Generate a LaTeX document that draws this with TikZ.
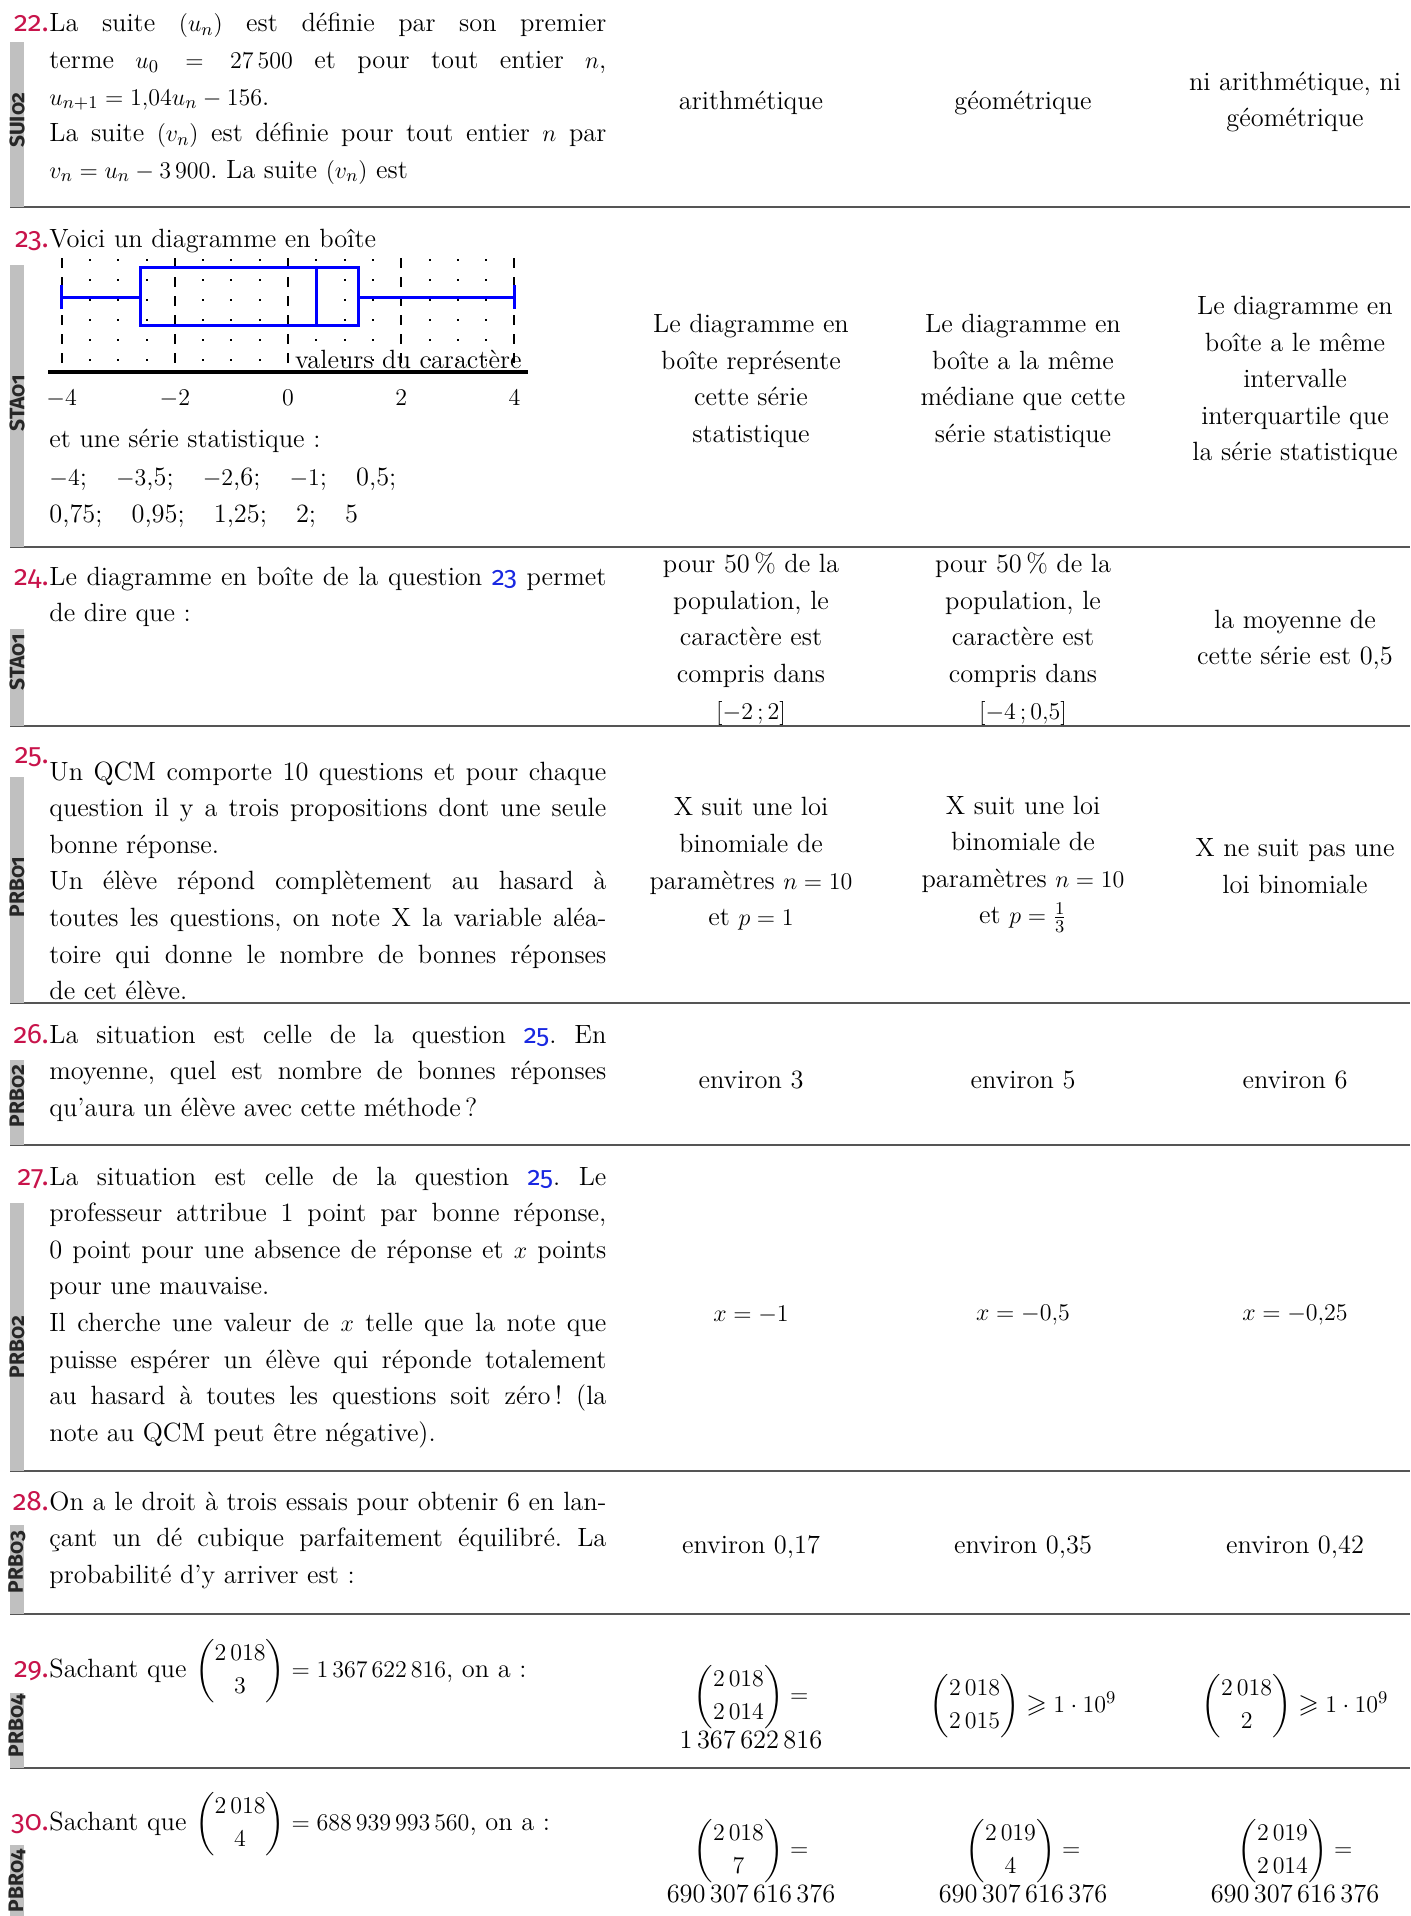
\documentclass[tikz,border=0pt]{standalone}
\usepackage{amsmath}
\usepackage{amssymb}
\usepackage{fontspec}
\newfontfamily\numfont[Numbers=OldStyle]{Fira Sans}
\usetikzlibrary{positioning}
\definecolor{qred}{RGB}{200,20,75}
\definecolor{linkblue}{RGB}{25,40,225}
\definecolor{bargray}{RGB}{192,192,192}
\definecolor{rulegray}{RGB}{85,85,85}
\newcommand{\qref}[1]{{\numfont\color{linkblue}#1}}
\hyphenpenalty=10000
\tolerance=9000
\hbadness=10000
\frenchspacing

\begin{document}
\begin{tikzpicture}[x=0.5pt,y=-0.5pt,
    every node/.style={inner sep=0pt,font=\fontsize{13.2}{18.3}\selectfont},
    question/.style={anchor=base west,text width=278.5pt,align=justify},
    answer/.style={align=center},
    qnum/.style={anchor=base east,text=qred,font=\fontsize{14}{18.3}\numfont},
    tagtext/.style={rotate=90,text=black!85,font=\fontsize{10.5}{11}\numfont\bfseries},
    rowrule/.style={draw=rulegray,line width=1pt},
    boxline/.style={draw=blue,line width=1.5pt}]
    \useasboundingbox (0,0) rectangle (1410,1916);

    % lignes de separation
    \foreach \y in {207,547,726,1003,1145,1471,1614,1768}
        \draw[rowrule] (10,\y) -- (1410,\y);

    % bandes grises
    \foreach \t/\b/\c/\lab in {42/207/120/SUI02,265/547/403/STA01,629/726/662/STA01,777/1003/887/PRB01,
        1060/1145/1096/PRB02,1203/1471/1347/PRB02,1525/1614/1562/PRB03,1693/1768/1726/PRB04,1845/1916/1881/PBR04}{
        \fill[bargray] (10,\t) rectangle (24,\b);
        \node[tagtext] (tag\t) at (17,\c) {\lab};
    }

    % question 22
    \node[qnum] (n22) at (49,32) {22.};
    \node[question] (q22) at (49,32) {La suite $(u_n)$ est définie par son premier\linebreak terme $u_0=27\,500$ et pour tout entier $n$,\linebreak $u_{n+1}=1{,}04u_n-156$.\\La suite $(v_n)$ est définie pour tout entier $n$ par\linebreak $v_n=u_n-3\,900$. La suite $(v_n)$ est};
    \node[answer] (a22) at (751,103) {arithmétique};
    \node[answer] (b22) at (1023,103) {géométrique};
    \node[answer] (c22) at (1295,102) {ni arithmétique, ni\\géométrique};

    % question 23
    \node[qnum] (n23) at (49,247) {23.};
    \node[anchor=base west] (q23) at (49,247) {Voici un diagramme en boîte};
    \begin{scope}[shift={(288,0)},x=28.3pt]
        \foreach \v in {-4,-2,...,4}
            \draw[line width=1pt,dash pattern=on 5pt off 4.5pt] (\v,258) -- (\v,370);
        \foreach \v in {-3.5,-3,-2.5,-1.5,-1,-0.5,0.5,1,1.5,2.5,3,3.5}
            \draw[line width=1pt,dash pattern=on 0.8pt off 9.2pt] (\v,259) -- (\v,370);
        \draw[line width=2pt] (-4.24,372) -- (4.24,372);
        \node[anchor=base west] (axe) at (0.12,368) {valeurs du caractère};
        \foreach \v in {-4,-2,...,4}
            \node[anchor=base] (tick\v) at (\v,405) {$\v$};
        \draw[boxline] (-2.6,267) rectangle (1.25,325);
        \draw[boxline] (0.5,267) -- (0.5,325);
        \draw[boxline] (-4,297) -- (-2.6,297) (1.25,297) -- (4,297);
        \draw[boxline] (-4,285) -- (-4,309) (4,285) -- (4,309);
    \end{scope}
    \node[anchor=base west] (s23) at (49,447) {et une série statistique :};
    \node[anchor=base west] (d23) at (49,485) {$-4$;\hspace{1.1em}$-3$,5;\hspace{1.1em}$-2$,6;\hspace{1.1em}$-1$;\hspace{1.1em}0,5;};
    \node[anchor=base west] (e23) at (49,522) {0,75;\hspace{1.1em}0,95;\hspace{1.1em}1,25;\hspace{1.1em}2;\hspace{1.1em}5};
    \node[answer] (a23) at (751,381) {Le diagramme en\\boîte représente\\cette série\\statistique};
    \node[answer] (b23) at (1023,381) {Le diagramme en\\boîte a la même\\médiane que cette\\série statistique};
    \node[answer] (c23) at (1295,381) {Le diagramme en\\boîte a le même\\intervalle\\interquartile que\\la série statistique};

    % question 24
    \node[qnum] (n24) at (49,585) {24.};
    \node[question] (q24) at (49,585) {Le diagramme en boîte de la question \qref{23} permet\linebreak de dire que :};
    \node[answer] (a24) at (751,639) {pour 50\,\% de la\\population, le\\caractère est\\compris dans\\$[-2\,;2]$};
    \node[answer] (b24) at (1023,639) {pour 50\,\% de la\\population, le\\caractère est\\compris dans\\$[-4\,;0{,}5]$};
    \node[answer] (c24) at (1295,640) {la moyenne de\\cette série est 0,5};

    % question 25
    \node[qnum] (n25) at (49,763) {25.};
    \node[question] (q25) at (49,780) {Un QCM comporte 10 questions et pour chaque\linebreak question il y a trois propositions dont une seule\linebreak bonne réponse.\\Un élève répond complètement au hasard à\linebreak toutes les questions, on note X la variable aléa-\linebreak toire qui donne le nombre de bonnes réponses\linebreak de cet élève.};
    \node[answer] (a25) at (751,864) {X suit une loi\\binomiale de\\paramètres $n=10$\\et $p=1$};
    \node[answer] (b25) at (1023,864) {X suit une loi\\binomiale de\\paramètres $n=10$\\et $p=\frac{1}{3}$};
    \node[answer] (c25) at (1295,866) {X ne suit pas une\\loi binomiale};

    % question 26
    \node[qnum] (n26) at (49,1043) {26.};
    \node[question] (q26) at (49,1043) {La situation est celle de la question \qref{25}. En\linebreak moyenne, quel est nombre de bonnes réponses\linebreak qu’aura un élève avec cette méthode\,?};
    \node[answer] (a26) at (751,1080) {environ 3};
    \node[answer] (b26) at (1023,1080) {environ 5};
    \node[answer] (c26) at (1295,1080) {environ 6};

    % question 27
    \node[qnum] (n27) at (49,1185) {27.};
    \node[question] (q27) at (49,1185) {La situation est celle de la question \qref{25}. Le\linebreak professeur attribue 1 point par bonne réponse,\linebreak 0 point pour une absence de réponse et $x$ points\linebreak pour une mauvaise.\\Il cherche une valeur de $x$ telle que la note que\linebreak puisse espérer un élève qui réponde totalement\linebreak au hasard à toutes les questions soit zéro\,! (la\linebreak note au QCM peut être négative).};
    \node[answer] (a27) at (751,1315) {$x=-1$};
    \node[answer] (b27) at (1023,1315) {$x=-0{,}5$};
    \node[answer] (c27) at (1295,1315) {$x=-0{,}25$};

    % question 28
    \node[qnum] (n28) at (49,1510) {28.};
    \node[question] (q28) at (49,1510) {On a le droit à trois essais pour obtenir 6 en lan-\linebreak çant un dé cubique parfaitement équilibré. La\linebreak probabilité d’y arriver est :};
    \node[answer] (a28) at (751,1547) {environ 0,17};
    \node[answer] (b28) at (1023,1547) {environ 0,35};
    \node[answer] (c28) at (1295,1547) {environ 0,42};

    % question 29
    \node[qnum] (n29) at (49,1677) {29.};
    \node[anchor=base west] (q29) at (49,1677) {Sachant que $\dbinom{2\,018}{3}=1\,367\,622\,816$, on a :};
    \node[answer] (a29) at (751,1707) {$\dbinom{2\,018}{2\,014}=$\\1\,367\,622\,816};
    \node[answer] (b29) at (1023,1706) {$\dbinom{2\,018}{2\,015}\geqslant 1\cdot 10^9$};
    \node[answer] (c29) at (1295,1706) {$\dbinom{2\,018}{2}\geqslant 1\cdot 10^9$};

    % question 30
    \node[qnum] (n30) at (49,1830) {30.};
    \node[anchor=base west] (q30) at (49,1830) {Sachant que $\dbinom{2\,018}{4}=688\,939\,993\,560$, on a :};
    \node[answer] (a30) at (751,1861) {$\dbinom{2\,018}{7}=$\\690\,307\,616\,376};
    \node[answer] (b30) at (1023,1861) {$\dbinom{2\,019}{4}=$\\690\,307\,616\,376};
    \node[answer] (c30) at (1295,1861) {$\dbinom{2\,019}{2\,014}=$\\690\,307\,616\,376};
\end{tikzpicture}
\end{document}
